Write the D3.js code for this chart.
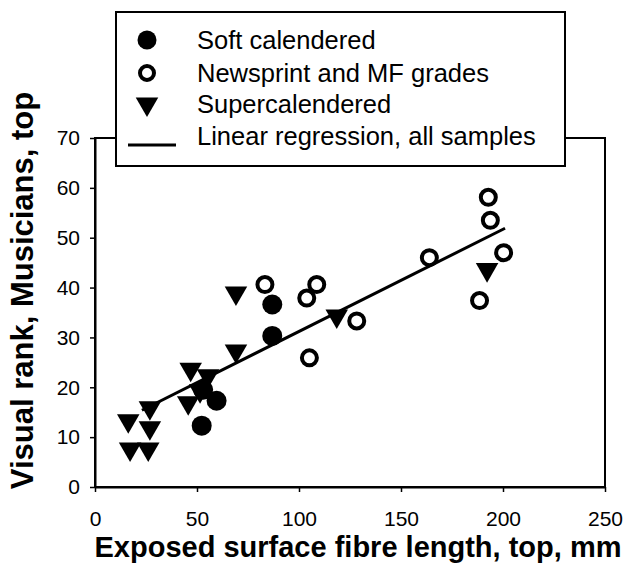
<!DOCTYPE html>
<html>
<head>
<meta charset="utf-8">
<script src="https://cdn.jsdelivr.net/npm/d3@7"></script>
<style>
  body { margin: 0; background: #fff; }
  text { font-family: 'Liberation Sans', Arial, sans-serif; }
</style>
</head>
<body>
<div id="chart"></div>
<script>
// soft calendered (filled circles)
let softX = [52.3, 59.6, 53, 86.9, 86.9]
let softY = [12.3, 17.3, 19.5, 36.6, 30.3]

// newsprint and MF grades (open circles)
let newsX = [83.3, 103.8, 108.7, 105.1, 128.3, 163.9, 192.8, 193.8, 200.3, 188.5]
let newsY = [40.6, 37.9, 40.6, 25.9, 33.3, 46.0, 58.1, 53.5, 47.0, 37.4]

// supercalendered (down triangles)
let superX = [69.1, 69.1, 118.5, 192.2, 46.9, 55.4, 51.5, 45.7, 26.9, 16.3, 26.9, 17.2, 26.1]
let superY = [38.9, 27.3, 34.3, 43.6, 23.6, 22.3, 19.3, 16.9, 15.9, 13.3, 11.9, 7.6, 7.6]

// linear regression, all samples (end points)
let regX = [23, 201]
let regY = [15.4, 51.9]

let xTicks = [0, 50, 100, 150, 200, 250]
let yTicks = [0, 10, 20, 30, 40, 50, 60, 70]

let legendLabels = [
  'Soft calendered',
  'Newsprint and MF grades',
  'Supercalendered',
  'Linear regression, all samples'
]

let margin = { top: 138, left: 95, right: 21, bottom: 80 }
let width = 626 - margin.left - margin.right
let height = 567 - margin.top - margin.bottom

let svg = d3
  .select('#chart')
  .append('svg')
  .attr('width', 626)
  .attr('height', 567)
  .append('g')
  .attr('transform', `translate(${margin.left}, ${margin.top})`)

let xPositionScale = d3.scaleLinear().domain([0, 250]).range([0, width])
let yPositionScale = d3.scaleLinear().domain([0, 70]).range([height, 0])

// frame
svg
  .append('rect')
  .attr('x', 0)
  .attr('y', 0)
  .attr('width', width)
  .attr('height', height)
  .attr('fill', 'none')
  .attr('stroke', '#000')
  .attr('stroke-width', 2)

let xAxis = d3
  .axisBottom(xPositionScale)
  .tickValues(xTicks)
  .tickSize(5)
  .tickPadding(19)
  .tickSizeOuter(0)
svg
  .append('g')
  .attr('class', 'axis x-axis')
  .attr('transform', 'translate(0,' + height + ')')
  .call(xAxis)

let yAxis = d3
  .axisLeft(yPositionScale)
  .tickValues(yTicks)
  .tickSize(5)
  .tickPadding(10)
  .tickSizeOuter(0)
svg
  .append('g')
  .attr('class', 'axis y-axis')
  .call(yAxis)

svg.selectAll('.axis path').attr('stroke-width', 2)
svg.selectAll('.axis line').attr('stroke-width', 1.5)
svg
  .selectAll('.axis text')
  .attr('font-size', 21)
  .attr('fill', '#000')
  .style('font-family', "'Liberation Sans', Arial, sans-serif")

// axis titles
svg
  .append('text')
  .attr('x', width / 2 + 8)
  .attr('y', height + 70)
  .attr('text-anchor', 'middle')
  .attr('font-size', 29)
  .attr('font-weight', 'bold')
  .text('Exposed surface fibre length, top, mm')

svg
  .append('text')
  .attr('transform', `translate(-62, ${height / 2 - 22}) rotate(-90)`)
  .attr('text-anchor', 'middle')
  .attr('font-size', 31)
  .attr('font-weight', 'bold')
  .text('Visual rank, Musicians, top')

// regression line
let line = d3
  .line()
  .x(d => xPositionScale(d[0]))
  .y(d => yPositionScale(d[1]))

svg
  .append('path')
  .attr('d', line(d3.zip(regX, regY)))
  .attr('stroke', '#000')
  .attr('stroke-width', 3)
  .attr('fill', 'none')

let triangle = d3.symbol().type(d3.symbolTriangle).size(220)

svg
  .selectAll('.super-point')
  .data(d3.zip(superX, superY))
  .enter()
  .append('path')
  .attr('class', 'super-point')
  .attr('d', triangle)
  .attr('transform', d => `translate(${xPositionScale(d[0])}, ${yPositionScale(d[1])}) rotate(180)`)
  .attr('fill', '#000')

svg
  .selectAll('.soft-point')
  .data(d3.zip(softX, softY))
  .enter()
  .append('circle')
  .attr('class', 'soft-point')
  .attr('cx', d => xPositionScale(d[0]))
  .attr('cy', d => yPositionScale(d[1]))
  .attr('r', 10)
  .attr('fill', '#000')

svg
  .selectAll('.news-point')
  .data(d3.zip(newsX, newsY))
  .enter()
  .append('circle')
  .attr('class', 'news-point')
  .attr('cx', d => xPositionScale(d[0]))
  .attr('cy', d => yPositionScale(d[1]))
  .attr('r', 7.5)
  .attr('fill', '#fff')
  .attr('stroke', '#000')
  .attr('stroke-width', 4)

// legend
let legend = svg.append('g').attr('transform', `translate(${116 - margin.left}, ${12 - margin.top})`)

legend
  .append('rect')
  .attr('width', 449)
  .attr('height', 154)
  .attr('fill', '#fff')
  .attr('stroke', '#000')
  .attr('stroke-width', 2)

let rowY = [28, 61, 92, 124]

legend
  .selectAll('.legend-text')
  .data(legendLabels)
  .enter()
  .append('text')
  .attr('class', 'legend-text')
  .attr('x', 81)
  .attr('y', (d, i) => rowY[i])
  .attr('dy', '0.35em')
  .attr('font-size', 25.5)
  .text(d => d)

legend
  .append('circle')
  .attr('cx', 31)
  .attr('cy', rowY[0])
  .attr('r', 9.5)
  .attr('fill', '#000')

legend
  .append('circle')
  .attr('cx', 31)
  .attr('cy', rowY[1])
  .attr('r', 7)
  .attr('fill', '#fff')
  .attr('stroke', '#000')
  .attr('stroke-width', 4)

legend
  .append('path')
  .attr('d', triangle)
  .attr('transform', `translate(31, ${rowY[2]}) rotate(180)`)
  .attr('fill', '#000')

legend
  .append('line')
  .attr('x1', 12)
  .attr('x2', 60)
  .attr('y1', rowY[3] + 9)
  .attr('y2', rowY[3] + 9)
  .attr('stroke', '#000')
  .attr('stroke-width', 3)
</script>
</body>
</html>
